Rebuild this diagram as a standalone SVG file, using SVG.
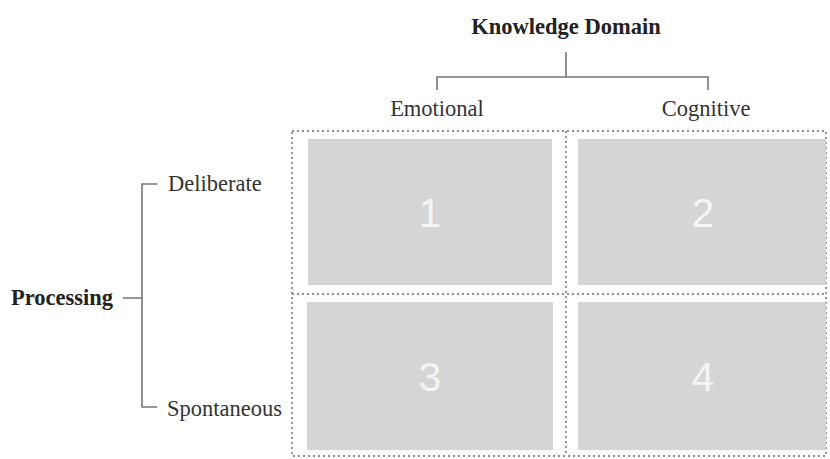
<svg xmlns="http://www.w3.org/2000/svg" width="830" height="459" viewBox="0 0 830 459">
<style>
.lbl{font-family:"Liberation Serif","Times New Roman",serif;font-size:22.5px;fill:#333}
.bold{font-weight:bold;fill:#222}
.cell{fill:#d5d5d5}
.num{font-family:"Liberation Sans",Arial,sans-serif;font-size:41px;fill:#f4f4f4;text-anchor:middle}
.dot{fill:none;stroke:#8c8c8c;stroke-width:1.8;stroke-dasharray:2 3}
.br{fill:none;stroke:#777;stroke-width:1.6}
</style>
<rect width="830" height="459" fill="#fff"/>
<g id="grid">
<rect class="dot" x="292" y="131" width="534" height="325"/>
<line class="dot" x1="566" y1="131" x2="566" y2="456"/>
<line class="dot" x1="292" y1="294" x2="826" y2="294"/>
</g>
<g id="cell1"><rect class="cell" x="308" y="139" width="244" height="146"/><text class="num" x="430" y="227">1</text></g>
<g id="cell2"><rect class="cell" x="578" y="139" width="248" height="146"/><text class="num" x="703" y="227">2</text></g>
<g id="cell3"><rect class="cell" x="307" y="302" width="246" height="148"/><text class="num" x="430" y="391">3</text></g>
<g id="cell4"><rect class="cell" x="578" y="302" width="248" height="148"/><text class="num" x="703" y="391">4</text></g>
<g id="knowledge"><text class="lbl bold" x="566" y="34" text-anchor="middle">Knowledge Domain</text></g>
<g id="emotional"><text class="lbl" x="437" y="116" text-anchor="middle">Emotional</text></g>
<g id="cognitive"><text class="lbl" x="706" y="116" text-anchor="middle">Cognitive</text></g>
<g id="processing"><text class="lbl bold" x="11" y="305">Processing</text></g>
<g id="deliberate"><text class="lbl" x="168" y="191">Deliberate</text></g>
<g id="spontaneous"><text class="lbl" x="167" y="416">Spontaneous</text></g>
<g id="connectors">
<path class="br" d="M566 52V77M437 90V77H708V90"/>
<path class="br" d="M123 298H142M157 184H142V407H157"/>
</g>
</svg>
